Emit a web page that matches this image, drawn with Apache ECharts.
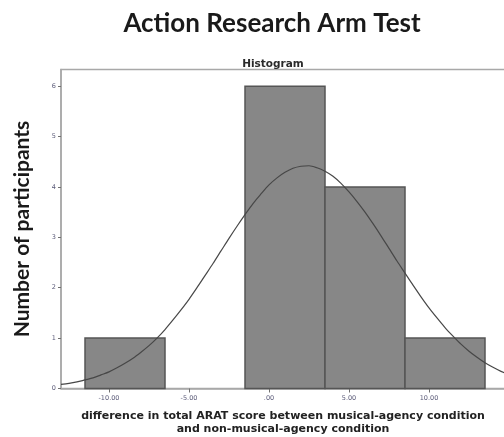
<!DOCTYPE html>
<html>
<head>
<meta charset="utf-8">
<script src="https://cdn.jsdelivr.net/npm/echarts@6/dist/echarts.min.js"></script>
<style>
  html, body { margin: 0; padding: 0; background: #fff; }
  #chart { width: 504px; height: 437px; }
</style>
</head>
<body>
<div id="chart"></div>
<script>
// Histogram bins: edges and participant counts per bin
const binEdges = [-11.5, -6.5, -1.5, 3.5, 8.5, 13.5];
const binCounts = [1, 0, 6, 4, 1];

// Fitted normal curve, sampled every half unit of difference
const curveX = [-13, -12.5, -12, -11.5, -11, -10.5, -10, -9.5, -9, -8.5, -8, -7.5, -7, -6.5, -6, -5.5, -5, -4.5, -4, -3.5, -3, -2.5, -2, -1.5, -1, -0.5, 0, 0.5, 1, 1.5, 2, 2.5, 3, 3.5, 4, 4.5, 5, 5.5, 6, 6.5, 7, 7.5, 8, 8.5, 9, 9.5, 10, 10.5, 11, 11.5, 12, 12.5, 13, 13.5, 14, 14.5, 15, 15.5, 16];
const curveY = [0.08, 0.10, 0.13, 0.17, 0.21, 0.27, 0.33, 0.41, 0.50, 0.60, 0.72, 0.85, 1.00, 1.17, 1.36, 1.56, 1.77, 2.00, 2.24, 2.48, 2.73, 2.98, 3.22, 3.45, 3.67, 3.86, 4.04, 4.18, 4.29, 4.37, 4.41, 4.42, 4.38, 4.31, 4.21, 4.07, 3.90, 3.71, 3.50, 3.27, 3.03, 2.78, 2.53, 2.29, 2.05, 1.82, 1.60, 1.40, 1.21, 1.04, 0.88, 0.74, 0.62, 0.51, 0.42, 0.34, 0.28, 0.22, 0.18];

// Axis ticks
const xTickValues = [-10, -5, 0, 5, 10];
const xTickLabels = ['-10.00', '-5.00', '.00', '5.00', '10.00'];
const yTickValues = [0, 1, 2, 3, 4, 5, 6];

const histData = [];
for (let i = 0; i < binCounts.length; i++) {
  if (binCounts[i] > 0) histData.push([binEdges[i], binEdges[i + 1], binCounts[i]]);
}
const curveData = curveX.map((x, i) => [x, curveY[i]]);

const chart = echarts.init(document.getElementById('chart'), null, { renderer: 'canvas' });

chart.setOption({
  animation: false,
  backgroundColor: '#ffffff',
  title: [
    {
      text: 'Action Research Arm Test',
      left: 267, top: 6, textAlign: 'center',
      textStyle: { fontFamily: 'Lato', fontWeight: 700, fontSize: 26, color: '#1a1a1a' }
    },
    {
      text: 'Histogram',
      left: 268, top: 54, textAlign: 'center',
      textStyle: { fontFamily: 'DejaVu Sans', fontWeight: 'bold', fontSize: 10.5, color: '#2a2a2a' }
    }
  ],
  grid: {
    left: 61, top: 69.5, right: -21, bottom: 48.5,
    outerBoundsMode: 'none',
    show: true, borderColor: '#a8a8a8', borderWidth: 1.5, backgroundColor: '#ffffff'
  },
  xAxis: {
    type: 'value', min: -13, max: 16,
    splitLine: { show: false },
    axisLine: { lineStyle: { color: '#a8a8a8', width: 1.5 } },
    axisTick: { customValues: xTickValues, length: 4, lineStyle: { color: '#707070' } },
    axisLabel: {
      customValues: xTickValues,
      formatter: v => xTickLabels[xTickValues.indexOf(v)],
      fontSize: 6.5, color: '#5a5a78', margin: 6, fontFamily: 'DejaVu Sans'
    }
  },
  yAxis: {
    type: 'value', min: 0, max: 6.33,
    name: 'Number of participants',
    nameLocation: 'middle', nameRotate: 90, nameGap: 28,
    nameTextStyle: { fontFamily: 'Lato', fontWeight: 700, fontSize: 21, color: '#1a1a1a' },
    splitLine: { show: false },
    axisLine: { show: true, onZero: false, lineStyle: { color: '#a8a8a8', width: 1.5 } },
    axisTick: { show: true, customValues: yTickValues, length: 3, lineStyle: { color: '#707070' } },
    axisLabel: {
      customValues: yTickValues,
      fontSize: 6.5, color: '#5a5a78', margin: 5, fontFamily: 'DejaVu Sans'
    }
  },
  graphic: [
    {
      type: 'text', x: 283, y: 410,
      style: {
        text: 'difference in total ARAT score between musical-agency condition\nand non-musical-agency condition',
        align: 'center', verticalAlign: 'top', lineHeight: 12.5,
        font: 'bold 11px "DejaVu Sans"', fill: '#222222'
      }
    }
  ],
  series: [
    {
      type: 'custom',
      data: histData,
      encode: { x: [0, 1], y: 2 },
      renderItem: function (params, api) {
        const top = api.coord([api.value(0), api.value(2)]);
        const bottom = api.coord([api.value(1), 0]);
        return {
          type: 'rect',
          shape: { x: top[0], y: top[1], width: bottom[0] - top[0], height: bottom[1] - top[1] },
          style: { fill: '#878787', stroke: '#555555', lineWidth: 1.5 }
        };
      },
      z: 2
    },
    {
      type: 'line',
      data: curveData,
      smooth: 0.3,
      showSymbol: false,
      lineStyle: { color: '#474747', width: 1.2 },
      z: 3
    }
  ]
});
</script>
</body>
</html>
